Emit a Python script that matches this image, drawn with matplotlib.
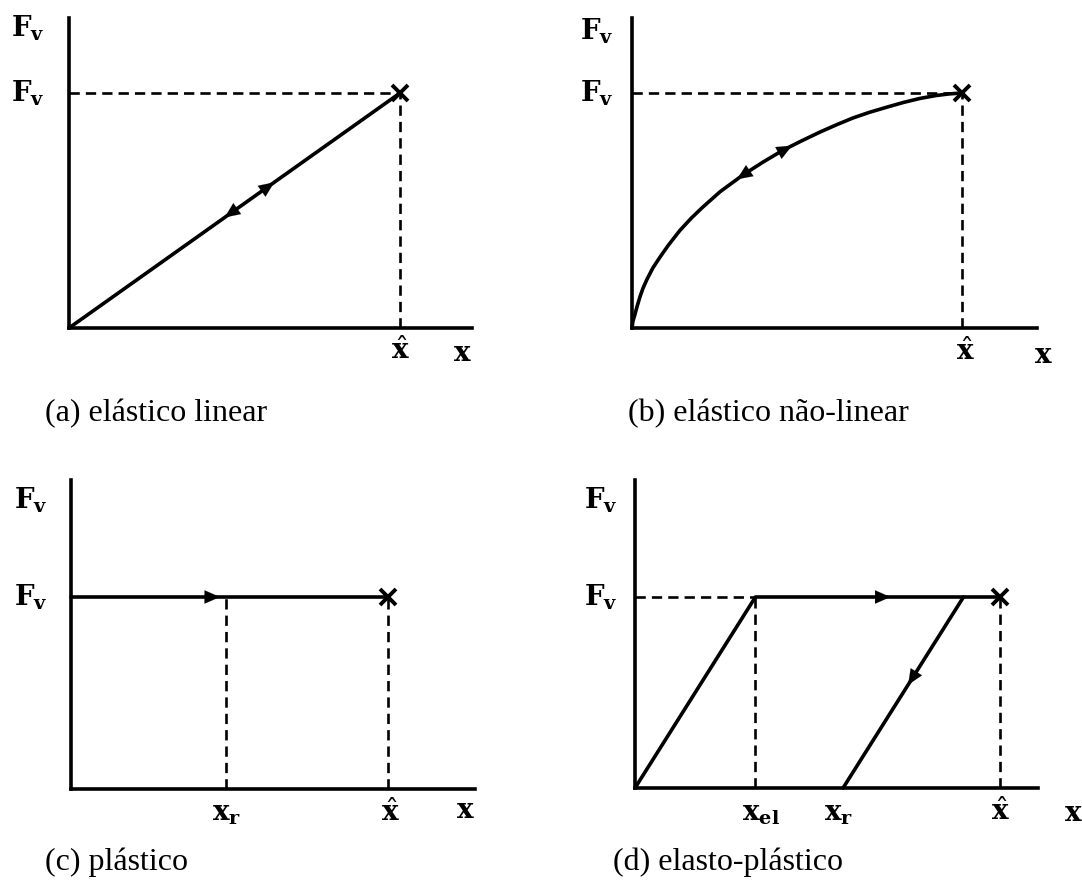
import matplotlib
matplotlib.use("Agg")
import matplotlib.pyplot as plt
import numpy as np

W, H = 1082, 886
plt.rcParams['mathtext.fontset'] = 'dejavuserif'
fig = plt.figure(figsize=(W / 100, H / 100), dpi=100)

# Normalised quantities: peak displacement x̂ = 1, yield force F_v = 1
x_hat = 1.0
F_v = 1.0

# (a) linear elastic
lin_x = [0.0, 1.0]
lin_y = [0.0, 1.0]

# (b) non-linear elastic loading curve
nl_x = [0.0, 0.003, 0.009, 0.015, 0.024, 0.033, 0.045, 0.063, 0.085, 0.110,
        0.145, 0.180, 0.215, 0.267, 0.336, 0.397, 0.458, 0.515, 0.570, 0.620,
        0.670, 0.720, 0.773, 0.823, 0.873, 0.920, 0.960, 1.0]
nl_y = [0.0, 0.030, 0.058, 0.090, 0.132, 0.168, 0.206, 0.255, 0.302, 0.352,
        0.415, 0.468, 0.515, 0.580, 0.651, 0.706, 0.757, 0.797, 0.834, 0.865,
        0.894, 0.918, 0.940, 0.960, 0.977, 0.989, 0.996, 1.0]

# (c) rigid-plastic
x_r_pl = 0.49
pl_x = [0.0, 1.0]
pl_y = [1.0, 1.0]

# (d) elasto-plastic
x_el = 0.33
x_r_ep = 0.57
x_unload = 0.90
ep_load_x = [0.0, x_el, 1.0]
ep_load_y = [0.0, 1.0, 1.0]
ep_unload_x = [x_unload, x_r_ep]
ep_unload_y = [1.0, 0.0]

captions = ["(a) elástico linear", "(b) elástico não-linear",
            "(c) plástico", "(d) elasto-plástico"]

LBL_F = r'$\mathbf{F}_{\mathbf{v}}$'
LBL_XHAT = r'$\hat{\mathbf{x}}$'
LBL_X = r'$\mathbf{x}$'
LBL_XR = r'$\mathbf{x}_{\mathbf{r}}$'
LBL_XEL = r'$\mathbf{x}_{\mathbf{el}}$'

LW = 2.6
DASH = dict(color='k', lw=1.9, ls=(0, (3.9, 2.3)), clip_on=False)
LINE = dict(color='k', lw=LW, solid_joinstyle='round', solid_capstyle='round',
            clip_on=False)
LBL_SIZE = 20


def panel(x0, y0, x1, ytop, sx, sy):
    ax = fig.add_axes([x0 / W, 1 - y0 / H, (x1 - x0) / W, (y0 - ytop) / H])
    ax.set_xlim(0, (x1 - x0) / sx)
    ax.set_ylim(0, (y0 - ytop) / sy)
    for s in ('top', 'right'):
        ax.spines[s].set_visible(False)
    for s in ('left', 'bottom'):
        ax.spines[s].set_linewidth(2.6)
    ax.set_xticks([])
    ax.set_yticks([])
    ax.patch.set_alpha(0)
    return ax


def label(ax, text, xd, yd, dx, dy, size=LBL_SIZE):
    ax.annotate(text, xy=(xd, yd), xycoords='data', xytext=(dx, dy),
                textcoords='offset pixels', ha='center', va='center',
                fontsize=size, annotation_clip=False)


def arrow(ax, tail, head):
    ax.annotate('', xy=head, xytext=tail, xycoords='data',
                arrowprops=dict(arrowstyle='-|>,head_length=0.55,head_width=0.24',
                                color='k', lw=0.1, shrinkA=0, shrinkB=0,
                                mutation_scale=20),
                annotation_clip=False)


def peak_mark(ax):
    ax.plot([x_hat], [F_v], marker='x', ms=11, mew=2.8, color='k', clip_on=False)


# ---------- (a) ----------
ax = panel(69, 328, 472, 18, 331, 235)
ax.plot([0, x_hat], [F_v, F_v], **DASH)
ax.plot([x_hat, x_hat], [0, F_v], **DASH)
ax.plot(lin_x, lin_y, **LINE)
peak_mark(ax)
arrow(ax, (0.51, 0.51), (0.47, 0.47))
arrow(ax, (0.58, 0.58), (0.62, 0.62))
label(ax, LBL_F, 0, ax.get_ylim()[1], -41, -10)
label(ax, LBL_F, 0, F_v, -41, 0)
label(ax, LBL_XHAT, x_hat, 0, 0, -23)
label(ax, LBL_X, ax.get_xlim()[1], 0, -10, -25)

# ---------- (b) ----------
ax = panel(632, 328, 1037, 18, 330, 235)
ax.plot([0, x_hat], [F_v, F_v], **DASH)
ax.plot([x_hat, x_hat], [0, F_v], **DASH)
ax.plot(nl_x, nl_y, **LINE)
peak_mark(ax)
for xt, xh in [(0.36, 0.318), (0.44, 0.485)]:
    arrow(ax, (xt, np.interp(xt, nl_x, nl_y)), (xh, np.interp(xh, nl_x, nl_y)))
label(ax, LBL_F, 0, ax.get_ylim()[1], -35, -13)
label(ax, LBL_F, 0, F_v, -35, 0)
label(ax, LBL_XHAT, x_hat, 0, 3, -24)
label(ax, LBL_X, ax.get_xlim()[1], 0, 6, -27)

# ---------- (c) ----------
ax = panel(71, 789, 475, 480, 317, 192)
ax.plot([x_r_pl, x_r_pl], [0, F_v], **DASH)
ax.plot([x_hat, x_hat], [0, F_v], **DASH)
ax.plot(pl_x, pl_y, **LINE)
peak_mark(ax)
arrow(ax, (0.43, F_v), (0.47, F_v))
label(ax, LBL_F, 0, ax.get_ylim()[1], -40, -20)
label(ax, LBL_F, 0, F_v, -40, 0)
label(ax, LBL_XR, x_r_pl, 0, 0, -24)
label(ax, LBL_XHAT, x_hat, 0, 2, -24)
label(ax, LBL_X, ax.get_xlim()[1], 0, -10, -21)

# ---------- (d) ----------
ax = panel(635, 788, 1038, 480, 365, 191)
ax.plot([0, x_el], [F_v, F_v], **DASH)
ax.plot([x_el, x_el], [0, F_v], **DASH)
ax.plot([x_hat, x_hat], [0, F_v], **DASH)
ax.plot(ep_load_x, ep_load_y, **LINE)
ax.plot(ep_unload_x, ep_unload_y, **LINE)
peak_mark(ax)
arrow(ax, (0.66, F_v), (0.70, F_v))
y_t, y_h = 0.60, 0.54
arrow(ax, (x_r_ep + (x_unload - x_r_ep) * y_t, y_t),
      (x_r_ep + (x_unload - x_r_ep) * y_h, y_h))
label(ax, LBL_F, 0, ax.get_ylim()[1], -34, -20)
label(ax, LBL_F, 0, F_v, -34, 0)
label(ax, LBL_XEL, x_el, 0, 6, -25)
label(ax, LBL_XR, x_r_ep, 0, -4, -25)
label(ax, LBL_XHAT, x_hat, 0, 0, -24)
label(ax, LBL_X, ax.get_xlim()[1], 0, 35, -25)

# ---------- captions ----------
cap_pos = [(45, 414), (628, 414), (45, 862), (613, 862)]
for text, (px, py) in zip(captions, cap_pos):
    fig.text(px / W, 1 - py / H, text, ha='left', va='center',
             fontsize=23, family='Liberation Serif')

fig.savefig('out.png', dpi=100)
